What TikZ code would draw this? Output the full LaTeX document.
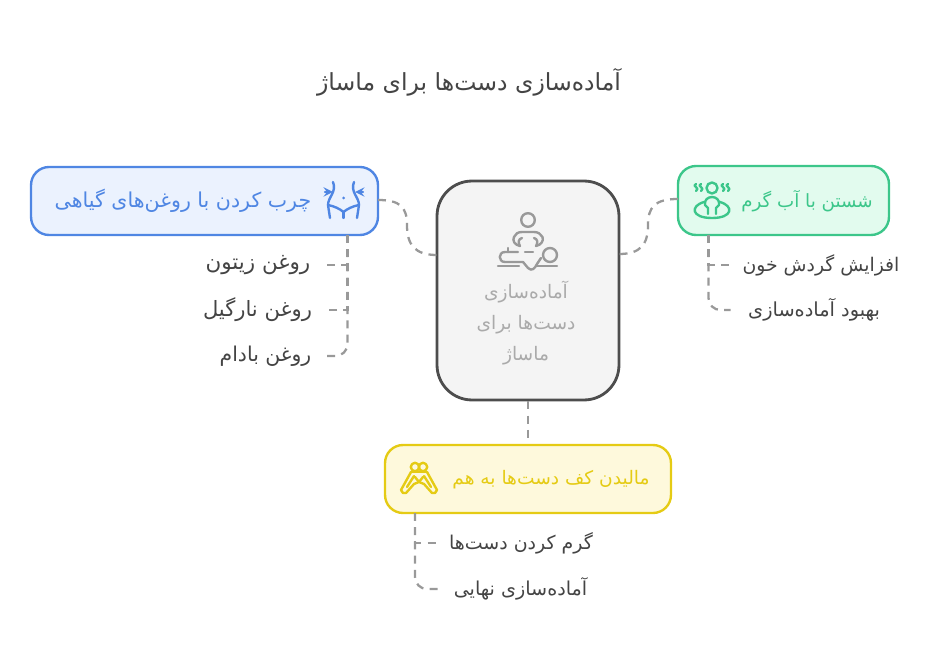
\documentclass[tikz,border=0pt]{standalone}
\usepackage{fontspec}
\usepackage{xcolor}
\TeXXeTstate=1
\newfontfamily\arabicfont[Script=Arabic]{DejaVu Sans}
\newcommand{\fa}[1]{\beginR #1\endR}
\definecolor{blueline}{HTML}{4F86E3}
\definecolor{bluefill}{HTML}{EBF2FE}
\definecolor{greenline}{HTML}{3CC68A}
\definecolor{greenfill}{HTML}{E2FBEE}
\definecolor{yellowline}{HTML}{E5CB14}
\definecolor{yellowfill}{HTML}{FEF9DC}
\definecolor{darkline}{HTML}{4D4D4D}
\definecolor{greyfill}{HTML}{F4F4F4}
\definecolor{linkgrey}{HTML}{999999}
\definecolor{softtext}{HTML}{AAAAAA}
\definecolor{leaftext}{HTML}{444444}
\tikzset{
	stepbox/.style={draw, rounded corners=0.36cm, line width=1.35pt},
	link/.style={draw=linkgrey, line width=1.3pt, dash pattern=on 4.5pt off 3.6pt},
	icon/.style={line width=1.35pt, line cap=round, line join=round},
	boxtext/.style={inner sep=0pt, font=\arabicfont\fontsize{#1}{12}\selectfont},
	leaf/.style 2 args={inner ysep=0pt, inner xsep=0pt, minimum width=#1*0.02cm, text=leaftext, font=\arabicfont\fontsize{#2}{12}\selectfont}
}
\begin{document}
\begin{tikzpicture}
		[x=0.02cm, y=-0.02cm]
		\useasboundingbox (0,0) rectangle (936,665);
		\node[inner sep=0pt, text=leaftext, font=\arabicfont\fontsize{13.4}{16}\selectfont] (title) at (469,82){\fa{آماده‌سازی دست‌ها برای ماساژ}};
		% boxes
		\node[stepbox, draw=darkline, fill=greyfill, rounded corners=0.7cm, line width=1.6pt, minimum width=3.64cm, minimum height=4.38cm] (center) at (528,290.5){};
		\node[stepbox, draw=blueline, fill=bluefill, minimum width=6.94cm, minimum height=1.36cm] (oil) at (204.5,201){};
		\node[stepbox, draw=greenline, fill=greenfill, minimum width=4.22cm, minimum height=1.38cm] (wash) at (783.5,200.5){};
		\node[stepbox, draw=yellowline, fill=yellowfill, minimum width=5.72cm, minimum height=1.36cm] (rub) at (528,479){};
		% box texts
		\node[boxtext=10.6, text=softtext, align=center] (centertext) at (526,323){\fa{آماده‌سازی}\\[5.5pt]\fa{دست‌ها برای}\\[5.5pt]\fa{ماساژ}};
		\node[boxtext=11.7, text=blueline] (oiltext) at (183,201){\fa{چرب کردن با روغن‌های گیاهی}};
		\node[boxtext=10.4, text=greenline] (washtext) at (807,201){\fa{شستن با آب گرم}};
		\node[boxtext=10.6, text=yellowline] (rubtext) at (551,480){\fa{مالیدن کف دست‌ها به هم}};
		% leaves
		\node[leaf={134}{12.2}] (oila) at (258,265){\fa{روغن زیتون}};
		\node[leaf={135}{12}] (oilb) at (257.5,310){\fa{روغن نارگیل}};
		\node[leaf={119}{11.6}] (oilc) at (265.5,356){\fa{روغن بادام}};
		\node[leaf={180}{10.7}] (washa) at (821,265){\fa{افزایش گردش خون}};
		\node[leaf={166}{11}] (washb) at (814,310){\fa{بهبود آماده‌سازی}};
		\node[leaf={166}{10.8}] (ruba) at (521,543){\fa{گرم کردن دست‌ها}};
		\node[leaf={165}{10.9}] (rubb) at (520.5,589){\fa{آماده‌سازی نهایی}};
		% free ends on the box borders
		\coordinate (oilout) at (378,200);
		\coordinate (washout) at (678,199);
		\coordinate (centerl) at (437,255);
		\coordinate (centerr) at (619,254);
		\coordinate (oilroot) at (347.5,235);
		\coordinate (washroot) at (708.5,235);
		\coordinate (rubroot) at (415,513);
		% links
		\draw[link] (oilout) .. controls (400,200) and (407,207) .. (407,225) .. controls (407,245) and (415,255) .. (centerl);
		\draw[link] (washout) .. controls (655,199) and (648,207) .. (648,225) .. controls (648,245) and (640,254) .. (centerr);
		\draw[link] (center.south) -- (rub.north);
		\draw[link] (oilroot) |- (oila.east);
		\draw[link] (oilroot) |- (oilb.east);
		\draw[link, rounded corners=0.24cm] (oilroot) |- (oilc.east);
		\draw[link] (washroot) |- (washa.west);
		\draw[link, rounded corners=0.24cm] (washroot) |- (washb.west);
		\draw[link] (rubroot) |- (ruba.west);
		\draw[link, rounded corners=0.24cm] (rubroot) |- (rubb.west);
		% center icon
		\draw[icon, draw=linkgrey] (528,220) circle (6.8);
		\draw[icon, draw=linkgrey] (520,246) .. controls (515,245) and (512,241) .. (514,237) .. controls (515,234) and (518,232) .. (522,232) -- (534,232) .. controls (538,232) and (541,234) .. (542.5,237) .. controls (544,241) and (541,245) .. (536,246);
		\draw[icon, draw=linkgrey] (520,246) .. controls (518,243) and (518,239) .. (522,238);
		\draw[icon, draw=linkgrey] (536,246) .. controls (538,243) and (538,239) .. (534,238);
		\draw[icon, draw=linkgrey] (518,252) -- (505,252) .. controls (498,252) and (498,262) .. (505,262) -- (523,262) -- (528,268) .. controls (532,272) and (535,268) .. (537,264) -- (541,258);
		\draw[icon, draw=linkgrey] (508,248) -- (508,252) (525,252) -- (533,252);
		\draw[icon, draw=linkgrey] (550,255) circle (7);
		\draw[icon, draw=linkgrey] (498,266) -- (519,266) (537,266) -- (557,266);
		% oil icon
		\draw[icon, draw=blueline] (333,182) .. controls (337,192) and (328,197) .. (328,205) -- (330,218);
		\draw[icon, draw=blueline] (354,182) .. controls (350,192) and (359,197) .. (359,205) -- (357,218);
		\draw[icon, draw=blueline] (328,205) .. controls (334,206) and (340,209) .. (343.5,212) .. controls (347,209) and (353,206) .. (359,205);
		\draw[icon, draw=blueline] (343.5,212) -- (343.5,218);
		\draw[icon, draw=blueline, ->, >=stealth] (325,192) -- (333,192);
		\draw[icon, draw=blueline, ->, >=stealth] (363,192) -- (355,192);
		\fill[blueline] (343.5,198) circle (1.5);
		% wash icon
		\draw[icon, draw=greenline] (712,188) circle (5.5);
		\draw[icon, draw=greenline] (708,214) -- (708,208) -- (705,205) .. controls (704,200) and (708,197) .. (712,197) .. controls (716,197) and (720,200) .. (719,205) -- (716,208) -- (716,214);
		\draw[icon, draw=greenline] (704,202) .. controls (690,206) and (691,218) .. (712,218) .. controls (733,218) and (734,206) .. (720,202);
		\foreach \sx in {696,701,723,728}
			\draw[icon, draw=greenline] (\sx,184) .. controls (\sx-5,186) and (\sx+5,188) .. (\sx,191);
		% rub icon
		\draw[icon, draw=yellowline] (415,467) circle (4.2);
		\draw[icon, draw=yellowline] (423,467) circle (4.2);
		\draw[icon, draw=yellowline] (411,472) -- (401,490) -- (403,493) -- (406,493) -- (414,484) -- (419,482) -- (424,484) -- (432,493) -- (435,493) -- (437,490) -- (427,472);
		\draw[icon, draw=yellowline] (411,472) -- (427,472);
		\draw[icon, draw=yellowline] (414,476) -- (407,487) (424,476) -- (431,487);
		\draw[icon, draw=yellowline] (415,477) -- (419,482) -- (423,477);
\end{tikzpicture}
\end{document}
